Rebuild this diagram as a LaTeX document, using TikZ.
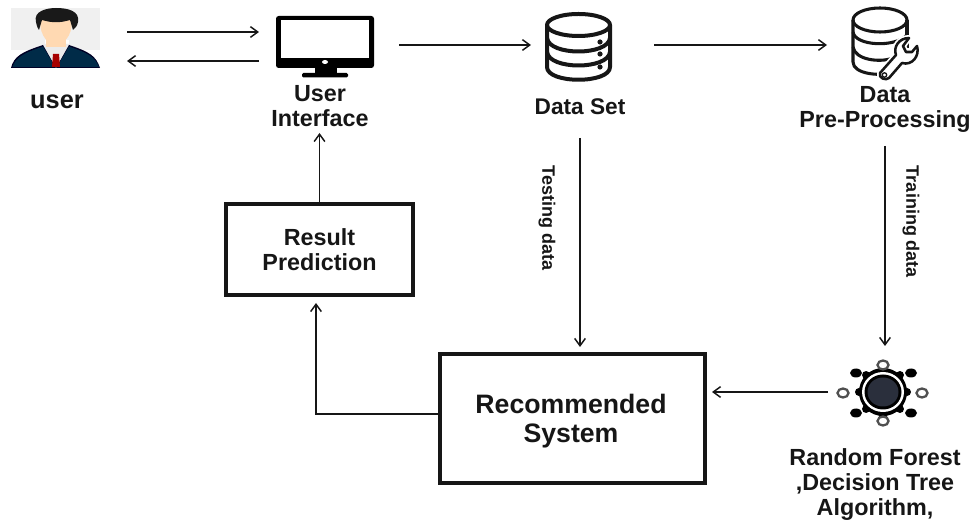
\documentclass[tikz,border=0pt]{standalone}
\usepackage{fontspec}
\setmainfont{Liberation Sans}
\usetikzlibrary{arrows.meta,calc}
\definecolor{ink}{HTML}{161616}
\definecolor{gearcore}{HTML}{2A2F3C}
\newcommand{\wrenchshape}{(880,73) -- (896,55) .. controls (893,47) and (899,38) .. (909,38) -- (903,46) -- (906,52) -- (912,52) -- (917,46) .. controls (920,56) and (912,66) .. (902,63) -- (889,78) .. controls (886,81) and (878,78) .. (880,73) -- cycle}
\tikzset{
  arr/.style={draw=ink,line width=1.3pt,-{Straight Barb[length=5.5pt,width=8pt,line width=1.1pt]}},
  boxn/.style={draw=ink,line width=2.3pt,outer sep=0pt,inner sep=0pt,align=center,text=ink},
  hold/.style={inner sep=0pt,outer sep=0pt},
  lab/.style={inner sep=0pt,outer sep=0pt,align=center,text=ink,font=\fontsize{17.5}{18.75}\selectfont\bfseries},
  rotlab/.style={inner sep=0pt,outer sep=0pt,rotate=-90,text=ink,font=\fontsize{13.5}{15}\selectfont\bfseries},
  dbline/.style={draw=ink,line width=3pt,line join=round},
  dbthin/.style={draw=ink,line width=2.3pt,line join=round},
  ring/.style={draw=ink!75,line width=1.7pt,fill=white},
  blob/.style={fill=black},
}
\begin{document}
\begin{tikzpicture}[x=0.75pt,y=-0.75pt]
\useasboundingbox (0,0) rectangle (974,523);
% --- user icon
\fill[black!6] (11,8) rectangle (100,50);
\fill[white] (11,50) rectangle (100,68);
\fill[white] (45,40) rectangle (69,68);
\fill[white!92!black] (44,44) -- (70,44) -- (72,55) -- (56,68) -- (42,55) -- cycle;
\fill[black!85!blue] (11,68) .. controls (14,56) and (22,52) .. (43,45) -- (56,68) -- (69,45) .. controls (90,52) and (96,56) .. (100,68) -- cycle;
\fill[blue!25!teal!45!black] (12.5,67) .. controls (16,57) and (24,53) .. (43,46.5) -- (55,67) -- cycle;
\fill[blue!25!teal!45!black] (99,67) .. controls (95,57) and (88,53) .. (69,46.5) -- (57,67) -- cycle;
\fill[red!65!black] (53,54) -- (59,54) -- (60,67) -- (52,67) -- cycle;
\fill[orange!30!white] (46,36) rectangle (66,47);
\fill[orange!30!white] (40,20) .. controls (40,38) and (49,44) .. (56,44) .. controls (63,44) and (72,38) .. (72,20) -- cycle;
\fill[black!90] (36,22) .. controls (33,11) and (47,8) .. (56,8) .. controls (68,8) and (80,11) .. (78,22) .. controls (77,27) and (75,28) .. (73,30) -- (70,20) .. controls (60,23) and (52,23) .. (42,20) -- (39,30) .. controls (38,29) and (37,27) .. (36,22) -- cycle;
% --- monitor icon
\fill[black,rounded corners=2pt] (276,16) rectangle (374,68);
\fill[white] (281,20) rectangle (369,58);
\fill[white] (325,62) ellipse [x radius=3,y radius=2];
\fill[black] (315,67) rectangle (337,74);
\fill[black,rounded corners=1pt] (302,73) rectangle (348,77.5);
% --- data set icon
\draw[dbline] (547,25) -- (547,67) .. controls (547,84) and (610,84) .. (610,67) -- (610,25);
\draw[dbline] (578.5,25) ellipse [x radius=31.5,y radius=11];
\draw[dbline] (547,38) .. controls (549,56) and (608,56) .. (610,38);
\draw[dbline] (547,52) .. controls (549,70) and (608,70) .. (610,52);
\fill[ink] (600,42) circle [radius=2.6] (600,54) circle [radius=2.6] (600,67) circle [radius=2.6];
% --- pre-processing icon
\draw[dbthin] (853,20) -- (853,62) .. controls (853,74) and (880,77) .. (895,72);
\draw[dbthin] (907,20) -- (907,48);
\draw[dbthin] (880,20) ellipse [x radius=27,y radius=12];
\draw[dbthin] (853,32) .. controls (855,46) and (895,48) .. (907,35);
\draw[dbthin] (853,47) .. controls (855,60) and (880,63) .. (893,58);
% wrench
\draw[white,fill=white,line width=4.5pt,line join=round] \wrenchshape;
\draw[ink,fill=white,line width=1.9pt,line join=round] \wrenchshape;
\draw[ink,line width=1pt] (884.5,75) circle [radius=2.2];
% --- gear icon
\fill[black] (883,392) circle [radius=24];
\foreach \a in {0,45,...,315}{\fill[black] ($(883,392)+(\a:24)$) circle [radius=4];}
\fill[white] (883,392) ellipse [x radius=21,y radius=20];
\fill[black] (883,392) ellipse [x radius=18.5,y radius=17.5];
\fill[gearcore] (883,392) ellipse [x radius=15.5,y radius=14.5];
\draw[ring] (883,365) ellipse [x radius=5.5,y radius=4.5];
\draw[ring] (883,421) ellipse [x radius=5.5,y radius=4.5];
\draw[ring] (843,393) ellipse [x radius=5.5,y radius=4.5];
\draw[ring] (922,393) ellipse [x radius=5.5,y radius=4.5];
\fill[blob] (856,373) ellipse [x radius=6,y radius=4.5] (911,373) ellipse [x radius=6,y radius=4.5];
\fill[blob] (856,413) ellipse [x radius=6,y radius=4.5] (911,413) ellipse [x radius=6,y radius=4.5];
% --- anchors around the icons
\node[hold,minimum width=116*0.75pt,minimum height=61*0.75pt] (user) at (69,46.5) {};
\node[hold,minimum width=140*0.75pt,minimum height=61*0.75pt] (ui) at (329,46.5) {};
\node[hold,minimum width=123*0.75pt,minimum height=70*0.75pt] (ds) at (592.5,45) {};
\node[hold,minimum width=100*0.75pt,minimum height=70*0.75pt] (pre) at (877,45) {};
\node[hold,minimum width=114*0.75pt,minimum height=92*0.75pt] (gear) at (885,392) {};
% --- labels
\node[lab,font=\fontsize{19}{20}\selectfont\bfseries] (userlab) at (57,102) {user};
\node[lab,minimum height=53*0.75pt] (uilab) at (320,106.5) {User\\Interface};
\node[lab,minimum height=62*0.75pt,font=\fontsize{17}{18.75}\selectfont\bfseries] (dslab) at (580,107) {Data Set};
\node[lab,minimum height=73*0.75pt] (prelab) at (885,109.5) {Data\\Pre-Processing};
\node[lab] (algo) at (875,485) {Random Forest\\,Decision Tree\\Algorithm,};
\node[rotlab] (testing) at (547,218) {Testing data};
\node[rotlab] (training) at (911,222) {Training data};
% --- boxes
\node[boxn,minimum width=187*0.75pt,minimum height=91*0.75pt,font=\fontsize{17.5}{18.75}\selectfont\bfseries] (result) at (319.5,249.5) {Result\\Prediction};
\node[boxn,minimum width=265*0.75pt,minimum height=129*0.75pt] (rec) at (572.5,418.5) {};
\node[lab,font=\fontsize{20}{21.75}\selectfont\bfseries] (reclab) at (571,421) {Recommended\\System};
% --- connectors
\draw[arr] ($(user.east)+(0,-14.5)$) -- ($(ui.west)+(0,-14.5)$);
\draw[arr] ($(ui.west)+(0,14.5)$) -- ($(user.east)+(0,14.5)$);
\draw[arr] (ui.east |- ds.west) -- (ds.west);
\draw[arr] (ds.east) -- (pre.west);
\draw[arr,shorten >=5.25pt] (dslab.south) -- (dslab.south |- rec.north);
\draw[arr] (prelab.south) -- (gear.north);
\draw[arr,shorten >=5.25pt] (gear.west) -- (gear.west -| rec.east);
\draw[arr,shorten >=6pt] ($(rec.west)+(0,-4.5)$) -| ($(result.south)+(-3.5,0)$);
\draw[arr] (result.north) -- (result.north |- uilab.south);
\end{tikzpicture}
\end{document}
